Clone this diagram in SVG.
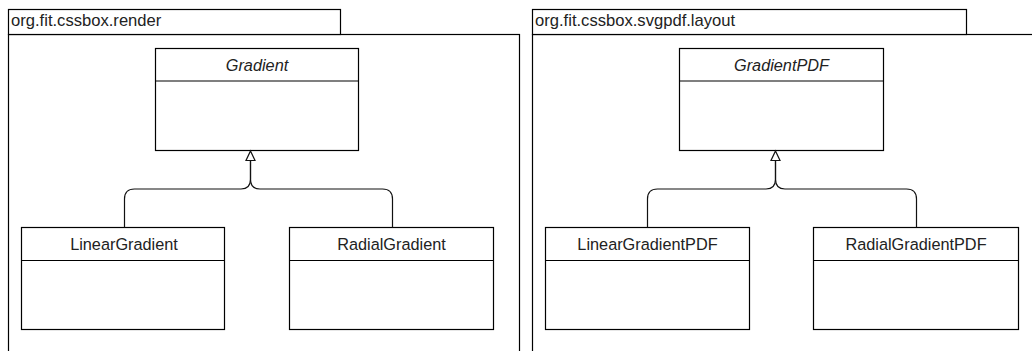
<svg xmlns="http://www.w3.org/2000/svg" width="1032" height="351" viewBox="0 0 1032 351">
<style>
.frame{fill:#fff;stroke:#000;stroke-width:1.2}
.box{fill:#fff;stroke:#000;stroke-width:1.2}
.div{stroke:#000;stroke-width:1.2;fill:none}
.conn{fill:none;stroke:#111;stroke-width:1.2}
.tri{fill:#fff;stroke:#111;stroke-width:1.2}
.pkg{font-family:"Liberation Sans",Arial,sans-serif;font-size:16.6px;fill:#222}
.cls{font-family:"Liberation Sans",Arial,sans-serif;font-size:16.3px;fill:#222;text-anchor:middle}
.abs{font-style:italic}
</style>
<rect width="1032" height="351" fill="#fff"/>
<g id="pkg-render">
  <rect class="frame" x="8.5" y="34.5" width="511" height="330"/>
  <rect class="frame" x="8.5" y="9.5" width="332" height="25"/>
  <text class="pkg" x="11" y="25.5">org.fit.cssbox.render</text>
</g>
<g id="pkg-layout">
  <rect class="frame" x="532.5" y="34.5" width="520" height="330"/>
  <rect class="frame" x="532.5" y="9.5" width="434" height="25"/>
  <text class="pkg" x="535" y="25.5">org.fit.cssbox.svgpdf.layout</text>
</g>
<g id="Gradient">
  <rect class="box" x="155.5" y="48.5" width="203" height="102"/>
  <line class="div" x1="155.5" y1="81" x2="358.5" y2="81"/>
  <text class="cls abs" x="257" y="70.5">Gradient</text>
</g>
<g id="LinearGradient">
  <rect class="box" x="21.5" y="227.5" width="203" height="102"/>
  <line class="div" x1="21.5" y1="260.5" x2="224.5" y2="260.5"/>
  <text class="cls" x="124" y="250">LinearGradient</text>
</g>
<g id="RadialGradient">
  <rect class="box" x="289.5" y="227.5" width="204" height="102"/>
  <line class="div" x1="289.5" y1="260.5" x2="493.5" y2="260.5"/>
  <text class="cls" x="391.5" y="250">RadialGradient</text>
</g>
<g id="GradientPDF">
  <rect class="box" x="679.5" y="48.5" width="204" height="102"/>
  <line class="div" x1="679.5" y1="81" x2="883.5" y2="81"/>
  <text class="cls abs" x="781.5" y="70.5">GradientPDF</text>
</g>
<g id="LinearGradientPDF">
  <rect class="box" x="545.5" y="227.5" width="204" height="102"/>
  <line class="div" x1="545.5" y1="260.5" x2="749.5" y2="260.5"/>
  <text class="cls" x="647.5" y="250">LinearGradientPDF</text>
</g>
<g id="RadialGradientPDF">
  <rect class="box" x="813.5" y="227.5" width="205" height="102"/>
  <line class="div" x1="813.5" y1="260.5" x2="1018.5" y2="260.5"/>
  <text class="cls" x="916" y="250">RadialGradientPDF</text>
</g>
<g id="connectors">
  <path class="conn" d="M124.5,227.5 V199 Q124.5,189 134.5,189 H241 Q250.5,189 250.5,179 V160.5"/>
  <path class="conn" d="M392.5,227.5 V199 Q392.5,189 382.5,189 H260 Q250.5,189 250.5,179 V160.5"/>
  <polygon class="tri" points="250.5,151 255,160.5 246,160.5"/>
  <path class="conn" d="M647.5,227.5 V199 Q647.5,189 657.5,189 H766 Q775.5,189 775.5,179 V160.5"/>
  <path class="conn" d="M916.5,227.5 V199 Q916.5,189 906.5,189 H785 Q775.5,189 775.5,179 V160.5"/>
  <polygon class="tri" points="775.5,151 780,160.5 771,160.5"/>
</g>
</svg>
